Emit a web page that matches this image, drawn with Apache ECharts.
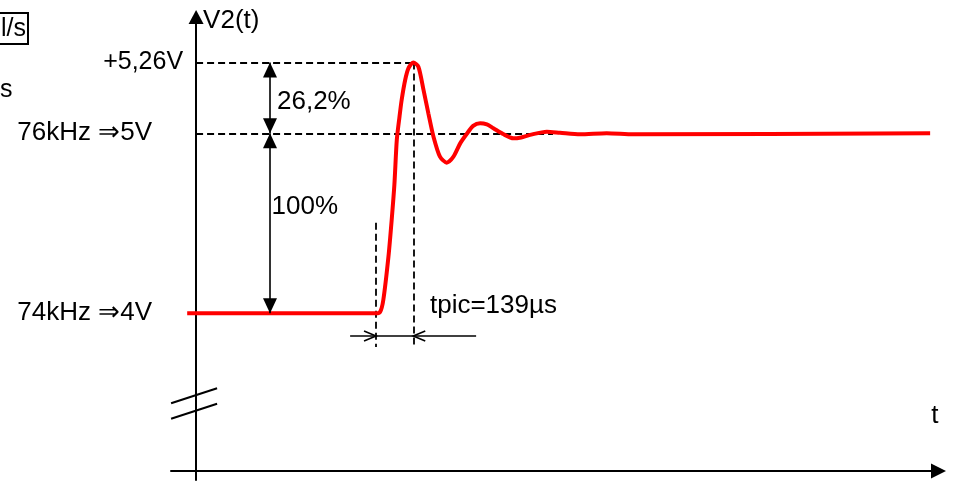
<!DOCTYPE html>
<html>
<head>
<meta charset="utf-8">
<script src="https://cdn.jsdelivr.net/npm/echarts@6/dist/echarts.min.js"></script>
<style>
html, body { margin: 0; padding: 0; background: #fff; }
#step { width: 953px; height: 481px; }
</style>
</head>
<body>
<div id="step"></div>
<script>
// time in µs (0 = V2 axis), voltage in V (as drawn on the sketch)
var times = [-33, 667, 682, 694, 713, 725, 735, 744, 754, 762, 775, 787, 805, 824, 843, 861, 880, 904, 929, 954, 979, 1003, 1027, 1053, 1078, 1102, 1138, 1176, 1205, 1238, 1300, 1349, 1423, 1522, 1621, 2721];
var volts = [4, 4, 4.007, 4.074, 4.314, 4.518, 4.713, 4.963, 5.092, 5.185, 5.296, 5.361, 5.393, 5.37, 5.241, 5.111, 4.981, 4.87, 4.837, 4.87, 4.944, 4.996, 5.041, 5.056, 5.049, 5.028, 4.996, 4.972, 4.977, 4.991, 5.009, 5.003, 4.994, 5.0, 4.994, 5.0];

var tMin = -93, tMax = 2752;
var vMin = 3.074, vMax = 5.646;

// levels on the V2 axis
var levelV = [5.393, 5, 4];
var levelLabels = ['+5,26V', '76kHz \u21D25V', '74kHz \u21D24V'];
var levelShift = [-13, -44, -44];
var levelFont = [25, 26, 26];

var tStart = 667, tPeak = 805, t5end = 1323;
var tDim = 274;            // where the % arrows stand
var vTpic = 3.874;         // height of the tpic dimension line
var tpicSpan = [571, 1038];
var vDashLow = 3.813, vStartTop = 4.503;
var breakV = [3.545, 3.459];

var notes = [
  { text: '26,2%', t: 300, v: 5.174 },
  { text: '100%', t: 280, v: 4.591 },
  { text: 'tpic=139\u00B5s', t: 867, v: 4.04 },
  { text: 'V2(t)', t: 26, v: 5.624 },
  { text: 't', t: 2725, v: 3.43 }
];

var FAMILY = '"Liberation Sans", Arial, sans-serif';

var dashStyle = { color: '#000', width: 1.8, type: [7, 4] };
var chart = echarts.init(document.getElementById('step'));

chart.setOption({
  animation: false,
  grid: { left: 171, right: 14.5, top: 17, bottom: 1 },
  xAxis: {
    type: 'value', min: tMin, max: tMax, offset: -9,
    axisLine: { show: true, symbol: ['none', 'triangle'], symbolSize: [15, 15], lineStyle: { color: '#000', width: 2 } },
    axisTick: { show: false }, axisLabel: { show: false }, splitLine: { show: false }
  },
  yAxis: {
    type: 'value', min: vMin, max: vMax,
    axisLine: { show: true, onZero: true, symbol: ['none', 'triangle'], symbolSize: [15, 14], lineStyle: { color: '#000', width: 2 } },
    axisTick: { show: false }, axisLabel: { show: false }, splitLine: { show: false }
  },
  series: [{
    type: 'line',
    data: times.map(function (t, i) { return [t, volts[i]]; }),
    symbol: 'none',
    smooth: 0.25,
    z: 3,
    lineStyle: { color: '#ff0000', width: 4 },
    markLine: {
      silent: true, symbol: 'none', label: { show: false },
      lineStyle: dashStyle, z: 2,
      data: [
        [{ coord: [0, levelV[0]] }, { coord: [tPeak, levelV[0]] }],
        [{ coord: [0, levelV[1]] }, { coord: [t5end, levelV[1]] }],
        [{ coord: [tPeak, levelV[0]] }, { coord: [tPeak, vDashLow] }],
        [{ coord: [tStart, vStartTop] }, { coord: [tStart, vDashLow] }]
      ]
    }
  }]
});

function px(t, v) { return chart.convertToPixel({ gridIndex: 0 }, [t, v]); }

var g = [];
function seg(a, b, w) {
  g.push({ type: 'line', shape: { x1: a[0], y1: a[1], x2: b[0], y2: b[1] }, style: { stroke: '#000', lineWidth: w || 1.6 }, z: 10 });
}
function headV(tip, dir) {
  // filled triangle, dir = -1 points up, 1 points down
  g.push({ type: 'polygon', shape: { points: [[tip[0], tip[1]], [tip[0] - 7, tip[1] - dir * 15], [tip[0] + 7, tip[1] - dir * 15]] }, style: { fill: '#000' }, z: 10 });
}
function openH(tip, dir) {
  // open arrow head, dir = 1 points right, -1 points left
  g.push({ type: 'polyline', shape: { points: [[tip[0] - dir * 12, tip[1] - 5], [tip[0], tip[1]], [tip[0] - dir * 12, tip[1] + 5]] }, style: { stroke: '#000', lineWidth: 1.6, fill: null }, z: 10 });
}
function txt(s, x, y, align, size) {
  g.push({ type: 'text', style: { text: s, x: x, y: y, font: (size || 26) + 'px ' + FAMILY, fill: '#000', align: align, verticalAlign: 'middle', textAlign: align, textVerticalAlign: 'middle' }, z: 10 });
}

// 26,2 % and 100 % dimension arrows
var a0 = px(tDim, levelV[0]), a1 = px(tDim, levelV[1]), a2 = px(tDim, levelV[2]);
seg(a0, a1); headV(a0, -1); headV(a1, 1);
seg(a1, a2); headV(a1, -1); headV(a2, 1);

// tpic dimension
var d0 = px(tpicSpan[0], vTpic), d1 = px(tpicSpan[1], vTpic);
seg(d0, d1);
openH(px(tStart, vTpic), 1);
openH(px(tPeak, vTpic), -1);

// axis break
breakV.forEach(function (v) {
  var c = px(0, v);
  seg([c[0] - 25, c[1] + 8], [c[0] + 21, c[1] - 7], 2);
});

// level labels on the V2 axis
levelV.forEach(function (v, i) {
  var p = px(0, v);
  txt(levelLabels[i], p[0] + levelShift[i], p[1], 'right', levelFont[i]);
});

notes.forEach(function (n) {
  var p = px(n.t, n.v);
  txt(n.text, p[0], p[1], 'left');
});

// bits of the neighbouring figure cut by the frame
g.push({ type: 'rect', shape: { x: -5, y: 13, width: 33, height: 31 }, style: { fill: 'none', stroke: '#000', lineWidth: 2 }, z: 10 });
txt('l/s', 26, 29, 'right', 25);
txt('s', 0, 90, 'left', 25);

chart.setOption({ graphic: g });
</script>
</body>
</html>
